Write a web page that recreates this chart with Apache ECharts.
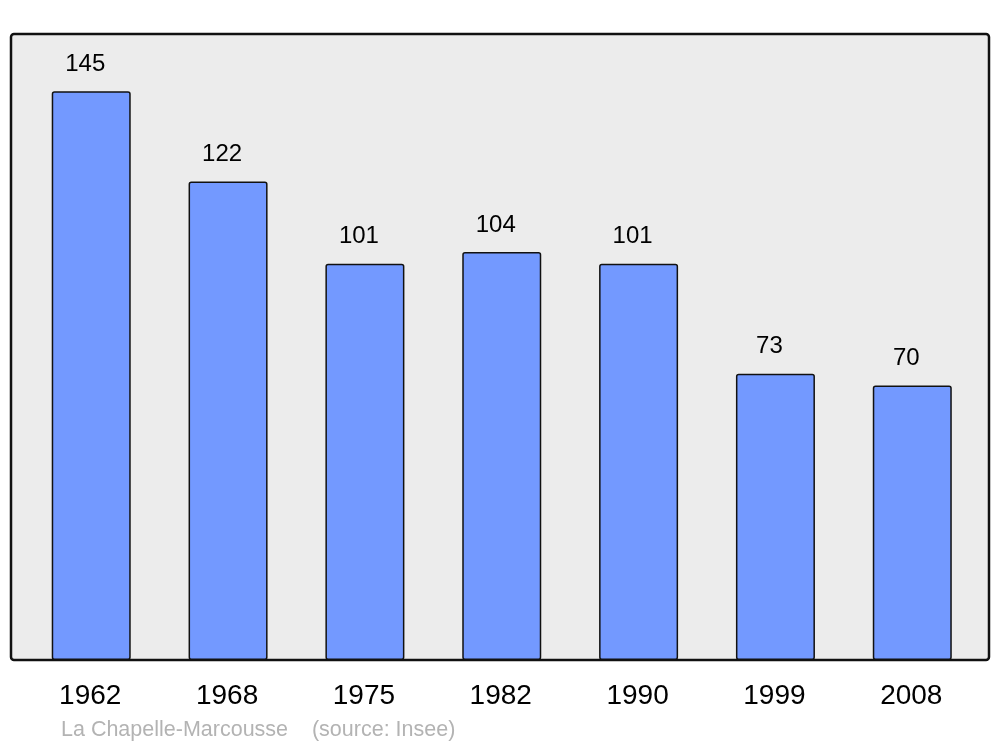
<!DOCTYPE html>
<html><head><meta charset="utf-8">
<script src="https://cdn.jsdelivr.net/npm/echarts@6/dist/echarts.min.js"></script>
<style>html,body{margin:0;padding:0;background:#fff}#c{width:1000px;height:747px}</style>
</head><body><div id="c"></div>
<script>
const categories = ['1962','1968','1975','1982','1990','1999','2008'];
const population = [145,122,101,104,101,73,70];
const sourceText = 'La Chapelle-Marcousse    (source: Insee)';
const chart = echarts.init(document.getElementById('c'));
chart.setOption({
  animation:false,
  backgroundColor:'#fff',
  graphic:[
    {type:'rect',z:-10,shape:{x:11,y:34,width:978,height:626,r:3},style:{fill:'#ececec',stroke:'#111',lineWidth:2.5}},
    {type:'text',left:61,top:719.5,style:{text:sourceText,fill:'#b3b3b3',font:'21.5px "Liberation Sans", Arial, sans-serif'}}
  ],
  grid:{left:22.8,right:19.3,top:34,bottom:87,containLabel:false},
  xAxis:{type:'category',data:categories,axisLine:{show:false},axisTick:{show:false},
    axisLabel:{fontSize:28,color:'#000',margin:22,fontFamily:'Liberation Sans',padding:[0,2,0,0]}},
  yAxis:{type:'value',min:0,max:159.6,show:false,splitLine:{show:false}},
  series:[{type:'bar',data:population,barWidth:79,
    itemStyle:{color:'#7399ff',borderColor:'#111',borderWidth:1.5,borderRadius:2},
    label:{show:true,position:'top',distance:15,offset:[-6,0],fontSize:24,color:'#000',fontFamily:'Liberation Sans'}}]
});
</script></body></html>
